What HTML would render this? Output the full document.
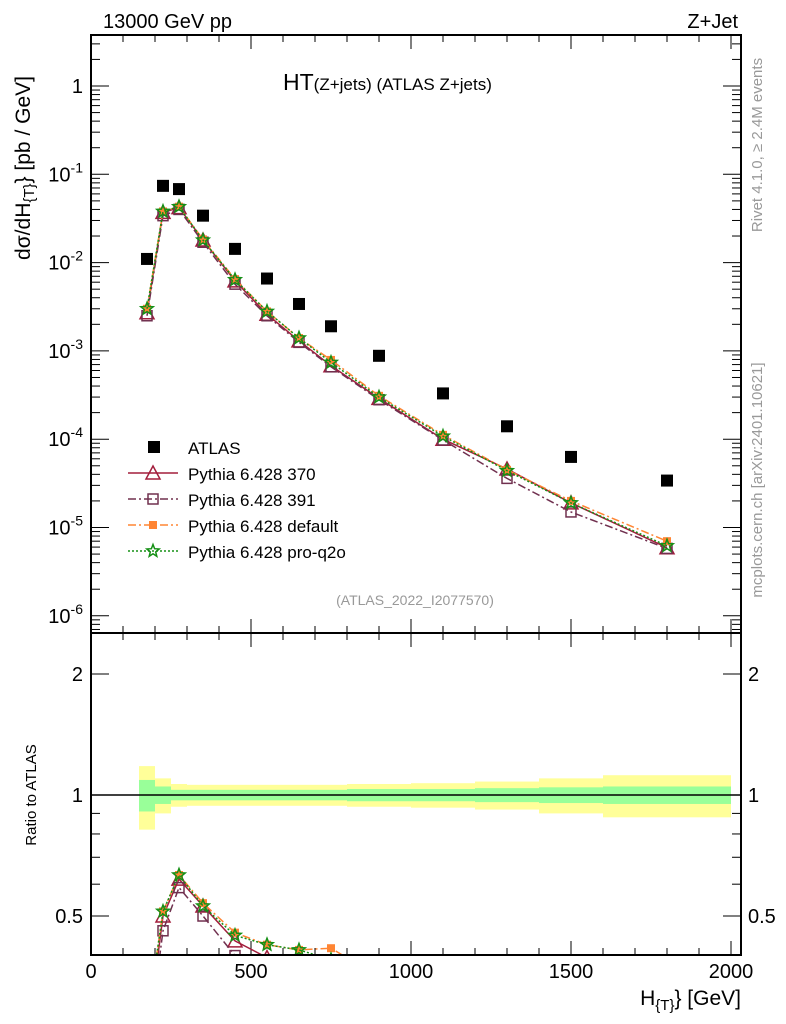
<!DOCTYPE html>
<html><head><meta charset="utf-8"><style>
html,body{margin:0;padding:0;background:#fff;overflow:hidden;width:786px;height:1024px;}
svg{display:block;}
svg text{font-family:"Liberation Sans",sans-serif;}
</style></head><body>
<svg id="c" width="786" height="1024" xmlns="http://www.w3.org/2000/svg">
<defs>
<clipPath id="clipMain"><rect x="91" y="35" width="650" height="598"/></clipPath>
<clipPath id="clipRatio"><rect x="91" y="633" width="650" height="322"/></clipPath>
</defs>
<text x="103" y="28" font-size="20">13000 GeV pp</text>
<text x="738" y="28" font-size="20" text-anchor="end">Z+Jet</text>
<text x="283" y="90" font-size="23">HT<tspan font-size="17">(Z+jets) (ATLAS Z+jets)</tspan></text>
<text x="415" y="605" font-size="14" fill="#999" text-anchor="middle">(ATLAS_2022_I2077570)</text>
<text transform="translate(762,145) rotate(-90)" font-size="15" fill="#999" text-anchor="middle">Rivet 4.1.0, ≥ 2.4M events</text>
<text transform="translate(762,480) rotate(-90)" font-size="15" fill="#999" text-anchor="middle">mcplots.cern.ch [arXiv:2401.10621]</text>
<text transform="translate(30,168) rotate(-90)" font-size="21" text-anchor="middle">dσ/dH<tspan font-size="15" dy="4">{T}</tspan><tspan dy="-4">} [pb / GeV]</tspan></text>
<text transform="translate(36,795) rotate(-90)" font-size="15" text-anchor="middle">Ratio to ATLAS</text>
<text x="741" y="1005" font-size="21" text-anchor="end">H<tspan font-size="15" dy="5">{T}</tspan><tspan dy="-5">} [GeV]</tspan></text>
<g id="bands" clip-path="url(#clipRatio)"></g>
<g id="grid"></g>
<g id="mainMarks" clip-path="url(#clipMain)"></g>
<g id="ratioMarks" clip-path="url(#clipRatio)"></g>
<rect x="91" y="35" width="650" height="598" fill="none" stroke="#000" stroke-width="2"/>
<rect x="91" y="633" width="650" height="322" fill="none" stroke="#000" stroke-width="2"/>
<g id="legend"></g>
</svg>
<script>
const binEdges=[150,200,250,300,400,500,600,700,800,1000,1200,1400,1600,2000];
const xCenters=[175,225,275,350,450,550,650,750,900,1100,1300,1500,1800];
const atlas=[0.011,0.074,0.068,0.034,0.0143,0.0066,0.0034,0.0019,8.8e-4,3.3e-4,1.4e-4,6.3e-5,3.4e-5];
const py370=[2.7e-3,0.037,0.042,0.018,0.0062,0.0026,1.3e-3,6.8e-4,2.9e-4,1.0e-4,4.6e-5,1.9e-5,5.9e-6];
const py391=[2.5e-3,0.034,0.040,0.0170,0.0057,0.0025,1.25e-3,6.6e-4,2.8e-4,9.8e-5,3.6e-5,1.5e-5,5.8e-6];
const pyDef=[3.0e-3,0.038,0.043,0.0183,0.0065,0.0028,1.4e-3,7.9e-4,3.1e-4,1.12e-4,4.5e-5,2.0e-5,7.0e-6];
const pyQ2o=[3.0e-3,0.038,0.043,0.018,0.0064,0.0028,1.4e-3,7.4e-4,3.0e-4,1.08e-4,4.4e-5,1.9e-5,6.2e-6];
const bandInner=[0.09,0.05,0.03,0.03,0.03,0.03,0.03,0.03,0.035,0.035,0.04,0.045,0.05];
const bandOuter=[0.18,0.1,0.065,0.06,0.06,0.06,0.06,0.06,0.065,0.07,0.08,0.1,0.12];
const xTicks=[0,500,1000,1500,2000];
const yTicks=[1,0.1,0.01,0.001,1e-4,1e-5,1e-6];
const yTickLabels=["1","10^-1","10^-2","10^-3","10^-4","10^-5","10^-6"];
const rTicks=[0.5,1,2];

const NS="http://www.w3.org/2000/svg";
const X=v=>91+0.32*v;
const Y=v=>86-88.3*Math.log10(v);
const R=v=>795-402*Math.log10(v);
function mk(tag,attrs,parent){const e=document.createElementNS(NS,tag);for(const k in attrs)e.setAttribute(k,attrs[k]);parent.appendChild(e);return e;}
const grid=document.getElementById('grid');
for(let v=0;v<=2030;v+=100){const big=v%500===0;const L=big?14:7;
 for(const [y0,dir] of [[633,-1],[35,1],[955,-1],[633,1]]){mk('line',{x1:X(v),x2:X(v),y1:y0,y2:y0+dir*L,stroke:'#000','stroke-width':1},grid);}}
xTicks.forEach(v=>{const t=mk('text',{x:X(v),y:978,'font-size':20,'text-anchor':'middle'},grid);t.textContent=v;

});
for(let d=-7;d<=0;d++){for(let m=1;m<10;m++){const v=m*Math.pow(10,d);const y=Y(v);if(y<35||y>633)continue;const L=m===1?18:9;
 mk('line',{x1:91,x2:91+L,y1:y,y2:y,stroke:'#000'},grid);mk('line',{x1:741,x2:741-L,y1:y,y2:y,stroke:'#000'},grid);}}
yTicks.forEach((v,i)=>{const t=mk('text',{x:83,y:Y(v)+7,'font-size':20,'text-anchor':'end'},grid);
 const lab=yTickLabels[i];if(lab.indexOf('^')<0)t.textContent=lab;else{const p=lab.split('^');t.textContent=p[0];const s=mk('tspan',{dy:-9,'font-size':14},t);s.textContent=p[1];}
 
 });
[0.4,0.5,0.6,0.7,0.8,0.9,1,2].forEach(v=>{const y=R(v);const L=(v===0.5||v===1||v===2)?18:9;
 mk('line',{x1:91,x2:91+L,y1:y,y2:y,stroke:'#000'},grid);mk('line',{x1:741,x2:741-L,y1:y,y2:y,stroke:'#000'},grid);});
rTicks.forEach(v=>{for(const [x,a] of [[83,'end'],[748,'start']]){const t=mk('text',{x:x,y:R(v)+7,'font-size':20,'text-anchor':a},grid);t.textContent=v;
 
 }});
const bands=document.getElementById('bands');
for(let i=0;i<xCenters.length;i++){const x0=X(binEdges[i]),x1=X(binEdges[i+1]);
 const o=mk('rect',{x:x0,width:x1-x0,y:R(1+bandOuter[i]),height:R(1-bandOuter[i])-R(1+bandOuter[i]),fill:'#ffff99'},bands);
 
 
 const n=mk('rect',{x:x0,width:x1-x0,y:R(1+bandInner[i]),height:R(1-bandInner[i])-R(1+bandInner[i]),fill:'#99ff99'},bands);
 
 }
mk('line',{x1:91,x2:741,y1:R(1),y2:R(1),stroke:'#000','stroke-width':1.5},bands);
function marker(type,x,y,col,parent){
 if(type==='sq')return mk('rect',{x:x-6,y:y-6,width:12,height:12,fill:'#000'},parent);
 if(type==='tri')return mk('polygon',{points:`${x},${y-7} ${x-7},${y+6} ${x+7},${y+6}`,fill:'none',stroke:col,'stroke-width':1.5},parent);
 if(type==='osq')return mk('rect',{x:x-5,y:y-5,width:10,height:10,fill:'none',stroke:col,'stroke-width':1.5},parent);
 if(type==='fsq')return mk('rect',{x:x-4,y:y-4,width:8,height:8,fill:col},parent);
 if(type==='star'){let p=[];for(let k=0;k<10;k++){const r=k%2?2.8:6.5;const a=-Math.PI/2+k*Math.PI/5;p.push((x+r*Math.cos(a)).toFixed(1)+','+(y+r*Math.sin(a)).toFixed(1));}
  return mk('polygon',{points:p.join(' '),fill:'none',stroke:col,'stroke-width':1.5},parent);}
}
const series=[
 {name:'py370',vals:py370,col:'#a31e3c',dash:'',m:'tri',label:'Pythia 6.428 370'},
 {name:'py391',vals:py391,col:'#70304f',dash:'8,3,2,3',m:'osq',label:'Pythia 6.428 391'},
 {name:'pydefault',vals:pyDef,col:'#ff8533',dash:'8,3,2,3',m:'fsq',label:'Pythia 6.428 default'},
 {name:'pyq2o',vals:pyQ2o,col:'#159015',dash:'2,2',m:'star',label:'Pythia 6.428 pro-q2o'}];
const mm=document.getElementById('mainMarks'),rm=document.getElementById('ratioMarks');
series.forEach(s=>{
 const pm=xCenters.map((x,i)=>X(x)+','+Y(s.vals[i]).toFixed(1)).join(' ');
 const l=mk('polyline',{points:pm,fill:'none',stroke:s.col,'stroke-width':1.5,'stroke-dasharray':s.dash},mm);
 
 
 const pr=xCenters.map((x,i)=>X(x)+','+R(s.vals[i]/atlas[i]).toFixed(1)).join(' ');
 const lr=mk('polyline',{points:pr,fill:'none',stroke:s.col,'stroke-width':1.5,'stroke-dasharray':s.dash},rm);
 
 
 xCenters.forEach((x,i)=>{const e=marker(s.m,X(x),Y(s.vals[i]),s.col,mm);
  
  
  const e2=marker(s.m,X(x),R(s.vals[i]/atlas[i]),s.col,rm);
  
  });
});
xCenters.forEach((x,i)=>{const e=marker('sq',X(x),Y(atlas[i]),'#000',mm);
 
 });
const lg=document.getElementById('legend');
let ly=447;
{const e=marker('sq',154,ly,'#000',lg);
 const t=mk('text',{x:188,y:ly+7,'font-size':17},lg);t.textContent='ATLAS';
 
 }
series.forEach((s,k)=>{const y=ly+26*(k+1);
 mk('line',{x1:128,x2:178,y1:y,y2:y,stroke:s.col,'stroke-width':1.5,'stroke-dasharray':s.dash},lg);
 marker(s.m,153,y,s.col,lg);
 const t=mk('text',{x:188,y:y+7,'font-size':17},lg);t.textContent=s.label;
 
 });
</script>
</body></html>
